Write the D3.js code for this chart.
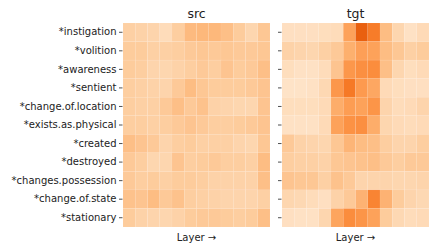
<!DOCTYPE html>
<html>
<head>
<meta charset="utf-8">
<script src="https://cdn.jsdelivr.net/npm/d3@7"></script>
<style>
    body { margin: 0; background: #fff; }
    text { font-family: "DejaVu Sans", sans-serif; fill: #222; }
</style>
</head>
<body>
<script>
// Data: rows are properties, columns are layers 1..12
var properties = ["*instigation", "*volition", "*awareness", "*sentient",
    "*change.of.location", "*exists.as.physical", "*created", "*destroyed",
    "*changes.possession", "*change.of.state", "*stationary"];
var layers = d3.range(1, 13);
var panels = ["src", "tgt"];

var srcValues = [
    [0.24, 0.23, 0.22, 0.18, 0.25, 0.33, 0.34, 0.34, 0.31, 0.26, 0.21, 0.28],
    [0.26, 0.26, 0.24, 0.24, 0.25, 0.27, 0.28, 0.27, 0.28, 0.27, 0.27, 0.28],
    [0.26, 0.25, 0.22, 0.21, 0.23, 0.25, 0.27, 0.25, 0.29, 0.26, 0.27, 0.31],
    [0.25, 0.24, 0.23, 0.22, 0.27, 0.32, 0.28, 0.26, 0.26, 0.26, 0.27, 0.29],
    [0.25, 0.24, 0.24, 0.27, 0.31, 0.27, 0.30, 0.23, 0.22, 0.21, 0.21, 0.29],
    [0.25, 0.25, 0.24, 0.25, 0.27, 0.29, 0.27, 0.25, 0.25, 0.26, 0.27, 0.29],
    [0.31, 0.29, 0.27, 0.22, 0.25, 0.26, 0.24, 0.24, 0.24, 0.22, 0.21, 0.28],
    [0.27, 0.25, 0.21, 0.21, 0.29, 0.25, 0.26, 0.27, 0.25, 0.25, 0.24, 0.32],
    [0.27, 0.25, 0.26, 0.24, 0.26, 0.26, 0.25, 0.23, 0.23, 0.23, 0.23, 0.31],
    [0.30, 0.29, 0.32, 0.27, 0.30, 0.25, 0.24, 0.23, 0.22, 0.22, 0.22, 0.24],
    [0.26, 0.23, 0.22, 0.21, 0.23, 0.26, 0.27, 0.27, 0.26, 0.25, 0.26, 0.31]
];

var tgtValues = [
    [0.16, 0.16, 0.16, 0.17, 0.18, 0.42, 0.66, 0.56, 0.32, 0.21, 0.15, 0.19],
    [0.23, 0.22, 0.21, 0.24, 0.27, 0.37, 0.43, 0.42, 0.32, 0.28, 0.24, 0.26],
    [0.17, 0.15, 0.15, 0.18, 0.29, 0.46, 0.49, 0.50, 0.31, 0.21, 0.17, 0.19],
    [0.14, 0.14, 0.15, 0.20, 0.46, 0.57, 0.45, 0.40, 0.19, 0.17, 0.16, 0.16],
    [0.17, 0.17, 0.17, 0.19, 0.38, 0.44, 0.42, 0.47, 0.22, 0.18, 0.19, 0.22],
    [0.15, 0.15, 0.15, 0.19, 0.42, 0.48, 0.49, 0.38, 0.21, 0.19, 0.18, 0.19],
    [0.27, 0.23, 0.22, 0.21, 0.28, 0.35, 0.32, 0.31, 0.25, 0.22, 0.22, 0.25],
    [0.25, 0.24, 0.24, 0.23, 0.28, 0.29, 0.30, 0.31, 0.27, 0.25, 0.27, 0.27],
    [0.29, 0.28, 0.28, 0.24, 0.30, 0.27, 0.22, 0.22, 0.22, 0.21, 0.21, 0.22],
    [0.21, 0.20, 0.18, 0.16, 0.23, 0.27, 0.36, 0.53, 0.36, 0.26, 0.22, 0.20],
    [0.16, 0.15, 0.15, 0.21, 0.41, 0.50, 0.47, 0.42, 0.26, 0.20, 0.18, 0.19]
];

var width = 436, height = 250;
var panelTop = 23, panelBottom = 227;
var panelLeft = [123, 282], panelWidth = 147;

var svg = d3.select("body").append("svg")
    .attr("width", width)
    .attr("height", height);

var y = d3.scaleBand()
    .domain(properties)
    .range([panelTop, panelBottom]);

var color = d3.scaleSequential(d3.interpolateOranges).domain([0, 1]);

var data = {src: srcValues, tgt: tgtValues};

panels.forEach(function(name, p) {
    var x = d3.scaleBand()
        .domain(layers)
        .range([panelLeft[p], panelLeft[p] + panelWidth]);

    var g = svg.append("g");

    //Cells
    var cells = [];
    data[name].forEach(function(row, i) {
        row.forEach(function(v, j) {
            cells.push({prop: properties[i], layer: layers[j], v: v});
        });
    });

    g.selectAll("rect")
        .data(cells)
        .enter().append("rect")
        .attr("x", function(d) { return x(d.layer); })
        .attr("y", function(d) { return y(d.prop); })
        .attr("width", x.bandwidth())
        .attr("height", y.bandwidth())
        .attr("fill", function(d) { return color(d.v); })
        .attr("stroke", "#fff")
        .attr("stroke-opacity", 0.12)
        .attr("stroke-width", 0.5);

    //Y axis: labels on first panel, ticks only on second
    var axis = d3.axisLeft(y).tickSize(3.5).tickPadding(2.5);
    if (p === 1) axis.tickFormat("");
    var ax = svg.append("g")
        .attr("transform", "translate(" + (panelLeft[p] - 0.5) + ",0)")
        .call(axis);
    ax.select(".domain").remove();
    ax.selectAll(".tick line").attr("stroke", "#222").attr("stroke-width", 0.8);
    ax.selectAll(".tick text")
        .style("font-family", "DejaVu Sans")
        .style("font-size", "10px")
        .attr("fill", "#222");

    //Title
    svg.append("text")
        .attr("x", panelLeft[p] + panelWidth / 2)
        .attr("y", 18)
        .attr("text-anchor", "middle")
        .style("font-size", "12.5px")
        .text(name);

    //X label
    svg.append("text")
        .attr("x", panelLeft[p] + panelWidth / 2)
        .attr("y", 241)
        .attr("text-anchor", "middle")
        .style("font-size", "10px")
        .text("Layer \u2192");
});
</script>
</body>
</html>
